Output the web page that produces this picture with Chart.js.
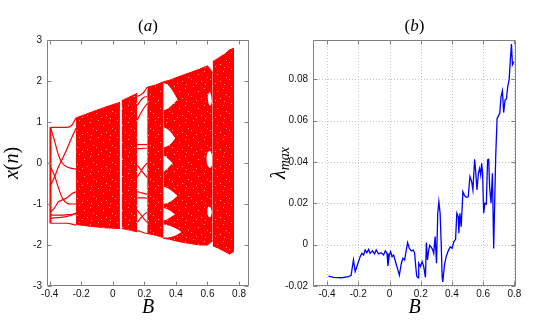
<!DOCTYPE html>
<html>
<head>
<meta charset="utf-8">
<script src="https://cdn.jsdelivr.net/npm/chart.js@4.4.1/dist/chart.umd.min.js"></script>
<style>
  html, body { margin: 0; padding: 0; background: #fff; }
  #wrap { position: relative; width: 550px; height: 324px; overflow: hidden; }
  canvas { position: absolute; top: 0; }
  #left { left: 0; }
  #right { left: 270px; }
</style>
</head>
<body>
<div id="wrap">
  <canvas id="left" width="262" height="324"></canvas>
  <canvas id="right" width="280" height="324"></canvas>
</div>
<script>
// ---- panel (a): bifurcation diagram ----
// chaotic bands: B, upper edge, lower edge
const band1B = [-0.233, -0.15, -0.05, 0.045];
const band1Top = [1.1, 1.22, 1.36, 1.48];
const band1Bot = [-1.5, -1.54, -1.58, -1.6];

const band2B = [0.056, 0.1, 0.155];
const band2Top = [1.52, 1.6, 1.7];
const band2Bot = [-1.6, -1.63, -1.68];

const band3B = [0.218, 0.27, 0.32];
const band3Top = [1.85, 1.9, 1.98];
const band3Bot = [-1.72, -1.76, -1.82];

const band4B = [0.32, 0.36, 0.4, 0.45, 0.5, 0.55, 0.6, 0.615, 0.633];
const band4Top = [1.98, 2.02, 2.08, 2.15, 2.22, 2.29, 2.37, 2.3, 2.2];
const band4Bot = [-1.84, -1.86, -1.9, -1.94, -1.97, -2.0, -2.0, -1.95, -1.9];

const band5B = [0.633, 0.67, 0.71, 0.74, 0.768];
const band5Top = [2.47, 2.56, 2.66, 2.76, 2.8];
const band5Bot = [-2.02, -2.08, -2.16, -2.22, -2.15];

// periodic windows (white) inside the chaotic sea
const win1B = [0.321, 0.35, 0.38, 0.41];
const win1Top = [1.95, 1.9, 1.75, 1.55];
const win1Bot = [1.28, 1.33, 1.43, 1.55];
const win2B = [0.321, 0.35, 0.375, 0.395];
const win2Top = [0.88, 0.82, 0.72, 0.6];
const win2Bot = [0.38, 0.42, 0.5, 0.6];
const win3B = [0.321, 0.34, 0.36, 0.38];
const win3Top = [0.18, 0.14, 0.07, 0.0];
const win3Bot = [-0.22, -0.16, -0.08, 0.0];
const win4B = [0.321, 0.35, 0.38, 0.41];
const win4Top = [-0.58, -0.62, -0.7, -0.8];
const win4Bot = [-1.0, -0.97, -0.9, -0.8];
const win5B = [0.321, 0.345, 0.37, 0.395];
const win5Top = [-1.1, -1.13, -1.18, -1.25];
const win5Bot = [-1.4, -1.37, -1.31, -1.25];
const win6B = [0.321, 0.36, 0.4, 0.435];
const win6Top = [-1.5, -1.53, -1.6, -1.68];
const win6Bot = [-1.82, -1.81, -1.76, -1.68];
const win7B = [0.592, 0.6, 0.615, 0.626, 0.63];
const win7Top = [0.1, 0.25, 0.3, 0.22, 0.05];
const win7Bot = [0.1, -0.05, -0.12, -0.08, 0.05];
const win8B = [0.598, 0.605, 0.618, 0.628];
const win8Top = [-1.15, -1.07, -1.08, -1.2];
const win8Bot = [-1.15, -1.3, -1.32, -1.2];
const win9B = [0.6, 0.61, 0.62, 0.628];
const win9Top = [1.6, 1.72, 1.7, 1.5];
const win9Bot = [1.6, 1.42, 1.4, 1.5];

// periodic orbit branches for B < -0.233
const periodicB = [-0.395, -0.37, -0.345, -0.32, -0.29, -0.26, -0.233];
const periodicX = [
  [0.87, 0.87, 0.87, 0.87, 0.87, 0.92, 1.1],
  [0.87, 0.55, 0.2, 0.0, -0.1, -0.13, -0.15],
  [-0.55, -0.35, -0.1, 0.1, 0.35, 0.62, 0.85],
  [-0.1, -0.3, -0.6, -0.85, -0.98, -1.0, -1.0],
  [-1.2, -1.1, -0.95, -0.9, -0.85, -0.75, -0.7],
  [-1.27, -1.27, -1.27, -1.27, -1.26, -1.25, -1.24],
  [-1.35, -1.34, -1.33, -1.32, -1.3, -1.27, -1.22],
  [-1.47, -1.47, -1.47, -1.47, -1.47, -1.49, -1.52]
];
// orbit branches in the window 0.155 < B < 0.218
const midB = [0.155, 0.175, 0.195, 0.218];
const midX = [
  [1.62, 1.66, 1.72, 1.85],
  [1.4, 1.52, 1.6, 1.62],
  [1.05, 1.2, 1.33, 1.45],
  [0.45, 0.45, 0.45, 0.45],
  [0.35, 0.35, 0.36, 0.36],
  [-0.05, -0.15, -0.25, -0.35],
  [-0.35, -0.22, -0.1, 0.0],
  [-0.7, -0.72, -0.74, -0.76],
  [-0.85, -0.85, -0.85, -0.86],
  [-1.15, -1.25, -1.35, -1.45],
  [-1.45, -1.35, -1.27, -1.2],
  [-1.65, -1.67, -1.7, -1.72]
];

const xTicksA = [-0.4, -0.2, 0, 0.2, 0.4, 0.6, 0.8];
const xTickLabelsA = ['-0.4', '-0.2', '0', '0.2', '0.4', '0.6', '0.8'];
const yTicksA = [-3, -2, -1, 0, 1, 2, 3];
const yTickLabelsA = ['-3', '-2', '-1', '0', '1', '2', '3'];

// ---- panel (b): largest Lyapunov exponent ----
const lyapB = [-0.391,-0.359,-0.306,-0.263,-0.246,-0.231,-0.22,-0.209,-0.188,-0.177,-0.166,-0.156,-0.145,-0.134,-0.124,-0.109,-0.096,-0.085,-0.07,-0.053,-0.038,-0.027,-0.016,-0.01,-0.001,0.007,0.016,0.026,0.041,0.054,0.063,0.076,0.086,0.097,0.108,0.116,0.127,0.14,0.153,0.161,0.168,0.174,0.183,0.187,0.198,0.209,0.219,0.23,0.236,0.243,0.251,0.258,0.268,0.277,0.283,0.292,0.301,0.309,0.316,0.324,0.331,0.337,0.341,0.352,0.363,0.376,0.389,0.401,0.412,0.423,0.431,0.44,0.444,0.451,0.459,0.47,0.479,0.491,0.504,0.515,0.526,0.534,0.545,0.551,0.56,0.569,0.577,0.584,0.59,0.596,0.603,0.611,0.62,0.628,0.635,0.641,0.65,0.659,0.667,0.68,0.689,0.697,0.706,0.714,0.723,0.731,0.74,0.749,0.757,0.766,0.774,0.781,0.787,0.796];
const lyapMax = [-0.0152,-0.0158,-0.016,-0.0155,-0.0148,-0.0074,-0.013,-0.0106,-0.0058,-0.0042,-0.005,-0.0026,-0.0039,-0.0023,-0.0042,-0.003,-0.0045,-0.0026,-0.0045,-0.0039,-0.005,-0.003,-0.0042,-0.0103,-0.005,-0.0034,-0.0058,-0.005,-0.009,-0.0123,-0.0148,-0.009,-0.0066,-0.0074,-0.0023,0.001,-0.0018,-0.003,-0.0026,-0.0042,-0.0106,-0.0152,-0.016,-0.009,-0.0106,-0.0082,-0.0106,-0.0158,0.001,-0.0074,-0.0026,-0.0003,-0.0013,-0.0026,-0.0042,0.0039,-0.009,0.0152,0.0208,0.0152,0.0006,-0.0155,-0.018,-0.0098,-0.0058,-0.003,-0.001,-0.0018,0.0015,0.0026,0.0152,0.0135,0.0055,0.0152,0.0087,0.0256,0.024,0.0229,0.0232,0.0329,0.0305,0.0265,0.0413,0.0361,0.0265,0.0345,0.0369,0.0337,0.0394,0.0345,0.0152,0.02,0.0197,0.041,0.0413,0.028,0.02,0.0345,-0.0019,0.0426,0.0611,0.0623,0.0635,0.0716,0.0744,0.0639,0.07,0.0705,0.0765,0.0797,0.0897,0.0971,0.087,0.0885];

const xTicksB = [-0.4, -0.2, 0, 0.2, 0.4, 0.6, 0.8];
const xTickLabelsB = ['-0.4', '-0.2', '0', '0.2', '0.4', '0.6', '0.8'];
const yTicksB = [-0.02, 0, 0.02, 0.04, 0.06, 0.08];
const yTickLabelsB = ['-0.02', '0', '0.02', '0.04', '0.06', '0.08'];

// ---------------------------------------------------------------
const RED = '#ff0000';
const SERIF = '"Liberation Serif", "Times New Roman", serif';
const TICKFONT = { family: '"Liberation Sans", Arial, sans-serif', size: 10 };

// red fill with a few pale specks, like a dense cloud of dots
function speckle() {
  const c = document.createElement('canvas');
  c.width = 19; c.height = 17;
  const g = c.getContext('2d');
  g.fillStyle = RED;
  g.fillRect(0, 0, 19, 17);
  g.fillStyle = '#ff9c9c';
  [[3, 1], [14, 3], [8, 6], [17, 9], [1, 11], [11, 13], [6, 15], [15, 16]].forEach(p => g.fillRect(p[0], p[1], 1, 1));
  return g.createPattern(c, 'repeat');
}
const RED_FILL = speckle();

function pts(xs, ys) {
  return xs.map((x, i) => ({ x: x, y: ys[i] }));
}

function drawRuns(ctx, runs, x, y, rotate) {
  ctx.save();
  ctx.translate(x, y);
  if (rotate) ctx.rotate(-Math.PI / 2);
  let total = 0;
  runs.forEach(r => { ctx.font = r.font; r.w = ctx.measureText(r.t).width; total += r.w; });
  let cx = -total / 2;
  ctx.fillStyle = '#000';
  ctx.textBaseline = 'alphabetic';
  runs.forEach(r => { ctx.font = r.font; ctx.fillText(r.t, cx, r.dy || 0); cx += r.w; });
  ctx.restore();
}

function framePlugin(opts) {
  return {
    id: 'frame',
    beforeDatasetsDraw(chart) {
      if (!opts.grid) return;
      const { ctx, chartArea: a, scales } = chart;
      ctx.save();
      ctx.strokeStyle = '#c4c4c4';
      ctx.lineWidth = 1;
      ctx.setLineDash([1, 2]);
      scales.x.ticks.forEach(t => {
        const px = Math.round(scales.x.getPixelForValue(t.value)) + 0.5;
        ctx.beginPath(); ctx.moveTo(px, a.top); ctx.lineTo(px, a.bottom); ctx.stroke();
      });
      scales.y.ticks.forEach(t => {
        const py = Math.round(scales.y.getPixelForValue(t.value)) + 0.5;
        ctx.beginPath(); ctx.moveTo(a.left, py); ctx.lineTo(a.right, py); ctx.stroke();
      });
      ctx.restore();
    },
    afterDatasetsDraw(chart) {
      const { ctx, chartArea: a, scales } = chart;
      const l = Math.round(a.left) + 0.5, r = Math.round(a.right) - 0.5;
      const t = Math.round(a.top) + 0.5, b = Math.round(a.bottom) - 0.5;
      ctx.save();
      ctx.setLineDash([]);
      ctx.globalAlpha = 1;
      ctx.strokeStyle = '#808080';
      ctx.lineWidth = 1;
      ctx.beginPath();
      ctx.moveTo(l, t); ctx.lineTo(r, t); ctx.lineTo(r, b); ctx.lineTo(l, b); ctx.closePath();
      const len = 4;
      scales.x.ticks.forEach(tk => {
        const px = Math.round(scales.x.getPixelForValue(tk.value)) + 0.5;
        ctx.moveTo(px, b); ctx.lineTo(px, b - len);
        ctx.moveTo(px, t); ctx.lineTo(px, t + len);
      });
      scales.y.ticks.forEach(tk => {
        const py = Math.round(scales.y.getPixelForValue(tk.value)) + 0.5;
        ctx.moveTo(l, py); ctx.lineTo(l + len, py);
        ctx.moveTo(r, py); ctx.lineTo(r - len, py);
      });
      ctx.stroke();
      ctx.restore();
    },
    afterDraw(chart) {
      const { ctx, chartArea: a } = chart;
      const cx = (a.left + a.right) / 2;
      drawRuns(ctx, [
        { t: '(', font: '17px ' + SERIF },
        { t: opts.letter, font: 'italic 17px ' + SERIF },
        { t: ')', font: '17px ' + SERIF }
      ], cx, 31, false);
      drawRuns(ctx, [{ t: 'B', font: 'italic 20px ' + SERIF }], cx, 313, false);
      drawRuns(ctx, opts.yLabel, opts.yLabelX, (a.top + a.bottom) / 2, true);
    }
  };
}

function axes(xMin, xMax, xTicks, xLabels, yMin, yMax, yTicks, yLabels, yWidth) {
  return {
    x: {
      type: 'linear', min: xMin, max: xMax,
      grid: { display: false, drawTicks: false },
      border: { display: false },
      afterBuildTicks: s => { s.ticks = xTicks.map(v => ({ value: v })); },
      afterFit: s => { s.height = 38; },
      ticks: {
        padding: 2, color: '#111', font: TICKFONT, maxRotation: 0, autoSkip: false,
        callback: v => xLabels[xTicks.indexOf(v)]
      }
    },
    y: {
      type: 'linear', min: yMin, max: yMax,
      grid: { display: false, drawTicks: false },
      border: { display: false },
      afterBuildTicks: s => { s.ticks = yTicks.map(v => ({ value: v })); },
      afterFit: s => { s.width = yWidth; },
      ticks: {
        padding: 5, color: '#111', font: TICKFONT, autoSkip: false,
        callback: v => yLabels[yTicks.indexOf(v)]
      }
    }
  };
}

// ---- build panel (a) datasets ----
const datasetsA = [];
[[band1B, band1Top, band1Bot], [band2B, band2Top, band2Bot], [band3B, band3Top, band3Bot],
 [band4B, band4Top, band4Bot], [band5B, band5Top, band5Bot]].forEach(b => {
  datasetsA.push({ data: pts(b[0], b[1]), fill: '+1', backgroundColor: RED_FILL, borderColor: RED, borderWidth: 1, order: 30 });
  datasetsA.push({ data: pts(b[0], b[2]), fill: false, borderColor: RED, borderWidth: 1, order: 30 });
});
[[win1B, win1Top, win1Bot], [win2B, win2Top, win2Bot], [win3B, win3Top, win3Bot],
 [win4B, win4Top, win4Bot], [win5B, win5Top, win5Bot], [win6B, win6Top, win6Bot],
 [win7B, win7Top, win7Bot], [win8B, win8Top, win8Bot], [win9B, win9Top, win9Bot]].forEach(w => {
  datasetsA.push({ data: pts(w[0], w[1]), fill: '+1', backgroundColor: '#ffffff', borderColor: 'rgba(0,0,0,0)', borderWidth: 0, tension: 0.35, order: 20 });
  datasetsA.push({ data: pts(w[0], w[2]), fill: false, borderColor: 'rgba(0,0,0,0)', borderWidth: 0, tension: 0.35, order: 20 });
});
periodicX.forEach(row => {
  datasetsA.push({ data: pts(periodicB, row), fill: false, borderColor: RED, borderWidth: 1.2, cubicInterpolationMode: 'monotone', order: 10 });
});
// dense column at the left end of the orbit
datasetsA.push({
  data: [{ x: periodicB[0], y: periodicX[0][0] }, { x: periodicB[0], y: periodicX[7][0] }],
  fill: false, borderColor: RED, borderWidth: 2, order: 10
});
midX.forEach(row => {
  datasetsA.push({ data: pts(midB, row), fill: false, borderColor: RED, borderWidth: 1.2, cubicInterpolationMode: 'monotone', order: 10 });
});

const common = {
  responsive: false,
  animation: false,
  devicePixelRatio: 1,
  elements: { point: { radius: 0 } },
  plugins: { legend: { display: false }, tooltip: { enabled: false }, title: { display: false } }
};

new Chart(document.getElementById('left'), {
  type: 'line',
  data: { datasets: datasetsA },
  options: Object.assign({}, common, {
    layout: { padding: { top: 40, right: 13, left: 0, bottom: 0 } },
    scales: axes(-0.417, 0.863, xTicksA, xTickLabelsA, -3, 3, yTicksA, yTickLabelsA, 47)
  }),
  plugins: [framePlugin({
    grid: false, letter: 'a', yLabelX: 18,
    yLabel: [
      { t: 'x', font: 'italic 20px ' + SERIF },
      { t: '(', font: '20px ' + SERIF },
      { t: 'n', font: 'italic 20px ' + SERIF },
      { t: ')', font: '20px ' + SERIF }
    ]
  })]
});

new Chart(document.getElementById('right'), {
  type: 'line',
  data: {
    datasets: [{
      data: pts(lyapB, lyapMax), fill: false, borderColor: '#0000ff', borderWidth: 1.3, tension: 0
    }]
  },
  options: Object.assign({}, common, {
    layout: { padding: { top: 40, right: 34, left: 0, bottom: 0 } },
    scales: axes(-0.49, 0.81, xTicksB, xTickLabelsB, -0.02, 0.099, yTicksB, yTickLabelsB, 43)
  }),
  plugins: [framePlugin({
    grid: true, letter: 'b', yLabelX: 15,
    yLabel: [
      { t: 'λ', font: 'italic 20px ' + SERIF },
      { t: 'max', font: 'italic 14px ' + SERIF, dy: 4 }
    ]
  })]
});
</script>
</body>
</html>
